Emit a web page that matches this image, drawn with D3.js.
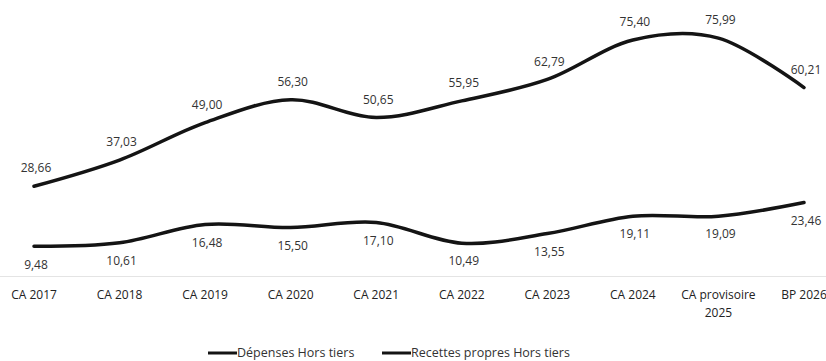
<!DOCTYPE html>
<html>
<head>
<meta charset="utf-8">
<script src="https://cdn.jsdelivr.net/npm/d3@7"></script>
<style>
  html, body { margin: 0; padding: 0; background: #fff; }
  svg { display: block; }
  text { font-family: "Open Sans", "Noto Sans", sans-serif; }
</style>
</head>
<body>
<svg id="chart" width="826" height="361"></svg>
<script>
// Exercices (CA = compte administratif, BP = budget primitif)
const categories = ["CA 2017", "CA 2018", "CA 2019", "CA 2020", "CA 2021",
                    "CA 2022", "CA 2023", "CA 2024", "CA provisoire\n2025", "BP 2026"];
// Montants en millions d'euros
const depenses = [28.66, 37.03, 49.00, 56.30, 50.65, 55.95, 62.79, 75.40, 75.99, 60.21];
const recettes = [9.48, 10.61, 16.48, 15.50, 17.10, 10.49, 13.55, 19.11, 19.09, 23.46];
const seriesNames = ["Dépenses Hors tiers", "Recettes propres Hors tiers"];

const fmt = v => v.toFixed(2).replace(".", ",");

const svg = d3.select("#chart");

const x = d3.scalePoint().domain(categories).range([34, 804]);
const y = d3.scaleLinear().domain([0, 80]).range([276, 25.6]);

// Horizontal category axis
const axis = svg.append("g").attr("transform", `translate(0,${y(0)})`)
  .call(d3.axisBottom(x).tickSize(0).tickPadding(0).tickFormat(""));
axis.select(".domain").attr("stroke", "#e4e4e4").attr("stroke-width", 1)
  .attr("d", `M0,0.5H826`);

const tickLabels = svg.append("g");
categories.forEach(c => {
  const t = tickLabels.append("text")
    .attr("x", x(c)).attr("y", 299)
    .attr("text-anchor", "middle")
    .attr("font-size", 12)
    .attr("fill", "#222");
  c.split("\n").forEach((line, i) => {
    t.append("tspan").attr("x", x(c)).attr("dy", i === 0 ? 0 : 18).text(line);
  });
});

const line = d3.line()
  .x((d, i) => x(categories[i]))
  .y(d => y(d))
  .curve(d3.curveCardinal.tension(0));

const series = [
  { name: seriesNames[0], values: depenses, labelDy: -18 },
  { name: seriesNames[1], values: recettes, labelDy: 18 }
];

series.forEach(s => {
  svg.append("path")
    .datum(s.values)
    .attr("fill", "none")
    .attr("stroke", "#141414")
    .attr("stroke-width", 3.5)
    .attr("stroke-linecap", "round")
    .attr("d", line);

  svg.append("g").selectAll("text")
    .data(s.values)
    .join("text")
    .attr("x", (d, i) => x(categories[i]) + 2)
    .attr("y", d => y(d) + s.labelDy)
    .attr("dy", "0.35em")
    .attr("text-anchor", "middle")
    .attr("font-size", 12)
    .attr("fill", "#333")
    .text(fmt);
});

// Legend
const legend = svg.append("g").attr("transform", "translate(0,353)");
const legendItems = [{ x: 208, name: seriesNames[0] }, { x: 382, name: seriesNames[1] }];
legendItems.forEach(it => {
  legend.append("line")
    .attr("x1", it.x).attr("x2", it.x + 29)
    .attr("y1", 0).attr("y2", 0)
    .attr("stroke", "#141414").attr("stroke-width", 3);
  legend.append("text")
    .attr("x", it.x + 29).attr("y", 0).attr("dy", "0.35em")
    .attr("font-size", 12.5).attr("fill", "#333")
    .text(it.name);
});
</script>
</body>
</html>
